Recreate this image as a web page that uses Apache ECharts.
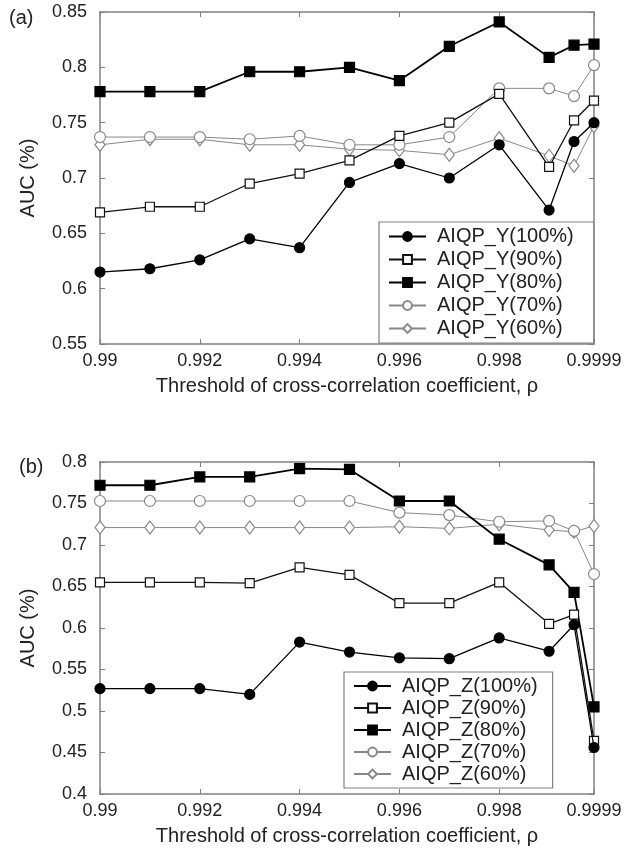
<!DOCTYPE html>
<html>
<head>
<meta charset="utf-8">
<script src="https://cdn.jsdelivr.net/npm/echarts@6/dist/echarts.min.js"></script>
<style>
  html, body { margin: 0; padding: 0; background: #fff; }
  #chart { width: 632px; height: 851px; }
</style>
</head>
<body>
<div id="chart"></div>
<script>
// threshold values (x)
const rho = [0.99, 0.991, 0.992, 0.993, 0.994, 0.995, 0.996, 0.997, 0.998, 0.999, 0.9995, 0.9999];

// panel (a) AIQP_Y
const y100 = [0.615, 0.618, 0.626, 0.645, 0.637, 0.696, 0.713, 0.700, 0.730, 0.671, 0.733, 0.750];
const y90  = [0.669, 0.674, 0.674, 0.695, 0.704, 0.716, 0.738, 0.750, 0.776, 0.710, 0.752, 0.770];
const y80  = [0.778, 0.778, 0.778, 0.796, 0.796, 0.800, 0.788, 0.819, 0.841, 0.809, 0.820, 0.821];
const y70  = [0.737, 0.737, 0.737, 0.735, 0.738, 0.730, 0.730, 0.737, 0.781, 0.781, 0.774, 0.802];
const y60  = [0.730, 0.735, 0.735, 0.730, 0.730, 0.726, 0.725, 0.721, 0.736, 0.720, 0.711, 0.747];

// panel (b) AIQP_Z
const z100 = [0.527, 0.527, 0.527, 0.520, 0.583, 0.571, 0.564, 0.563, 0.588, 0.572, 0.604, 0.456];
const z90  = [0.655, 0.655, 0.655, 0.654, 0.673, 0.664, 0.630, 0.630, 0.655, 0.605, 0.616, 0.464];
const z80  = [0.772, 0.772, 0.782, 0.782, 0.792, 0.791, 0.753, 0.753, 0.707, 0.676, 0.643, 0.505];
const z70  = [0.753, 0.753, 0.753, 0.753, 0.753, 0.753, 0.739, 0.736, 0.728, 0.729, 0.717, 0.665];
const z60  = [0.721, 0.721, 0.721, 0.721, 0.721, 0.721, 0.722, 0.720, 0.725, 0.718, 0.716, 0.723];

const namesY = ['AIQP_Y(100%)', 'AIQP_Y(90%)', 'AIQP_Y(80%)', 'AIQP_Y(70%)', 'AIQP_Y(60%)'];
const namesZ = ['AIQP_Z(100%)', 'AIQP_Z(90%)', 'AIQP_Z(80%)', 'AIQP_Z(70%)', 'AIQP_Z(60%)'];

const FONT = '"Liberation Sans", Arial, sans-serif';
const TXT = '#222';
const FRAME = '#808080';

// marker / line look per percentage
const looks = [
  { symbol: 'circle', size: 10, fill: '#000', stroke: '#000', line: '#000', width: 1.3 },
  { symbol: 'rect', size: 9, fill: '#fff', stroke: '#111', line: '#111', width: 1.3 },
  { symbol: 'rect', size: 10, fill: '#000', stroke: '#000', line: '#000', width: 1.8 },
  { symbol: 'circle', size: 11, fill: '#fff', stroke: '#888', line: '#888', width: 1 },
  { symbol: 'diamond', size: [10, 13], fill: '#fff', stroke: '#888', line: '#888', width: 1 }
];

const fmt = v => String(+v.toFixed(4));

function makeSeries(names, arrays, idx) {
  return names.map((n, k) => ({
    name: n,
    type: 'line',
    xAxisIndex: idx * 2,
    yAxisIndex: idx * 2,
    data: rho.map((x, i) => [x, arrays[k][i]]),
    symbol: looks[k].symbol,
    symbolSize: looks[k].size,
    showAllSymbol: true,
    z: 10 - k,
    lineStyle: { color: looks[k].line, width: looks[k].width },
    itemStyle: { color: looks[k].fill, borderColor: looks[k].stroke, borderWidth: 1.2, opacity: 1 }
  }));
}

function xAxes(gi) {
  const base = {
    gridIndex: gi, type: 'value', min: 0.99, max: 0.9999, interval: 0.002,
    axisLine: { show: true, lineStyle: { color: FRAME, width: 1.5 } },
    axisTick: { show: true, inside: true, length: 5, lineStyle: { color: FRAME } },
    splitLine: { show: false }
  };
  return [
    Object.assign({}, base, {
      position: 'bottom',
      name: 'Threshold of cross-correlation coefficient, \u03c1',
      nameLocation: 'middle', nameGap: 32,
      nameTextStyle: { fontSize: 20, color: TXT, fontFamily: FONT },
      axisLabel: { fontSize: 18, color: TXT, fontFamily: FONT, margin: 8, formatter: fmt }
    }),
    Object.assign({}, base, { position: 'top', axisLabel: { show: false } })
  ];
}

function yAxes(gi, min, max) {
  const base = {
    gridIndex: gi, type: 'value', min: min, max: max, interval: 0.05,
    axisLine: { show: true, lineStyle: { color: FRAME, width: 1.5 } },
    axisTick: { show: true, inside: true, length: 5, lineStyle: { color: FRAME } },
    splitLine: { show: false }
  };
  return [
    Object.assign({}, base, {
      position: 'left',
      name: 'AUC (%)', nameLocation: 'middle', nameGap: 62, nameRotate: 90,
      nameTextStyle: { fontSize: 20, color: TXT, fontFamily: FONT },
      axisLabel: { fontSize: 18, color: TXT, fontFamily: FONT, margin: 13, formatter: fmt }
    }),
    Object.assign({}, base, { position: 'right', axisLabel: { show: false } })
  ];
}

function legendBox(names, left, top, lh, rightPad) {
  return {
    data: names,
    orient: 'vertical',
    left: left, top: top,
    itemWidth: 37, itemHeight: 11, itemGap: 0,
    padding: [3, rightPad, 3, 9],
    backgroundColor: '#fff',
    borderColor: FRAME, borderWidth: 1.2,
    textStyle: { fontSize: 20, color: TXT, fontFamily: FONT, lineHeight: lh, padding: [0, 0, 0, 6] }
  };
}

const chart = echarts.init(document.getElementById('chart'), null, { renderer: 'canvas' });
chart.setOption({
  backgroundColor: '#fff',
  animation: false,
  title: [
    { text: '(a)', left: 4, top: 3, textStyle: { fontSize: 20, fontWeight: 'normal', color: TXT, fontFamily: FONT } },
    { text: '(b)', left: 14, top: 452, textStyle: { fontSize: 20, fontWeight: 'normal', color: TXT, fontFamily: FONT } }
  ],
  grid: [
    { left: 100, top: 12, width: 494, height: 332 },
    { left: 100, top: 462, width: 494, height: 332 }
  ],
  xAxis: xAxes(0).concat(xAxes(1)),
  yAxis: yAxes(0, 0.55, 0.85).concat(yAxes(1, 0.4, 0.8)),
  legend: [
    legendBox(namesY, 379, 222, 23, 20),
    legendBox(namesZ, 344, 672, 22, 15)
  ],
  series: makeSeries(namesY, [y100, y90, y80, y70, y60], 0)
    .concat(makeSeries(namesZ, [z100, z90, z80, z70, z60], 1))
});
</script>
</body>
</html>
